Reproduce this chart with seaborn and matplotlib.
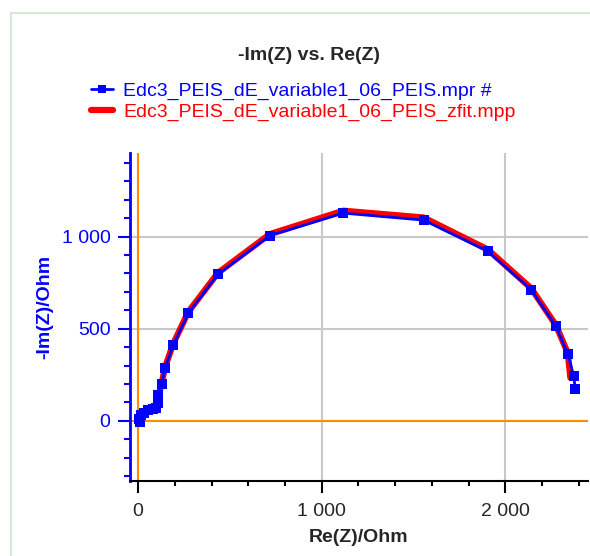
import matplotlib
matplotlib.use("Agg")
import matplotlib.pyplot as plt
from matplotlib.ticker import MultipleLocator, FuncFormatter
from matplotlib.lines import Line2D
from matplotlib.patches import Rectangle
import seaborn as sns
import pandas as pd

# measured data (Nyquist), from high to low frequency
re_meas = [10, 5, 15, 30, 55, 80, 100, 110, 111, 129, 147, 192, 274, 435, 717, 1118, 1555, 1904, 2140, 2276, 2340, 2372, 2381]
im_meas = [-5, 10, 30, 45, 60, 65, 70, 95, 141, 201, 286, 413, 585, 795, 1005, 1127, 1089, 920, 712, 512, 362, 245, 172]

# fitted curve
re_fit = [0, 8, 20, 40, 65, 90, 105, 112, 129, 147, 192, 274, 435, 717, 1118, 1555, 1904, 2140, 2276, 2340, 2354]
im_fit = [0, 20, 40, 58, 66, 72, 85, 141, 205, 292, 420, 592, 803, 1013, 1140, 1103, 930, 720, 518, 368, 234]

label_meas = "Edc3_PEIS_dE_variable1_06_PEIS.mpr #"
label_fit = "Edc3_PEIS_dE_variable1_06_PEIS_zfit.mpp"

sns.set_style("white")
plt.rcParams['font.family'] = ['Liberation Sans', 'DejaVu Sans']
plt.rcParams['font.size'] = 14

df_meas = pd.DataFrame({'re': re_meas, 'im': im_meas})
df_fit = pd.DataFrame({'re': re_fit, 'im': im_fit})

fig = plt.figure(figsize=(5.9, 5.56), dpi=100)
ax = fig.add_axes([130 / 590, 1 - 481 / 556, 458 / 590, 328 / 556])

# frame around the whole panel
fig.patches.append(Rectangle((11 / 590, -0.1), 1.2, 1 - 13 / 556 + 0.1, transform=fig.transFigure,
                             fill=False, edgecolor='#c8e6c8', linewidth=1.2))

ax.axhline(0, color='#ff8c00', lw=1.5, zorder=1)
ax.axvline(0, color='#ff8c00', lw=1.5, zorder=1)

sns.lineplot(data=df_fit, x='re', y='im', sort=False, ax=ax, color='red', lw=4.5,
             marker='o', markersize=3, markeredgewidth=0, zorder=3)
sns.lineplot(data=df_meas, x='re', y='im', sort=False, ax=ax, color='blue', lw=2,
             marker='s', markersize=7, markeredgewidth=0, zorder=4)

ax.set_xlim(-44, 2450)
ax.set_ylim(-326, 1453)
ax.xaxis.set_major_locator(MultipleLocator(1000))
ax.xaxis.set_minor_locator(MultipleLocator(200))
ax.yaxis.set_major_locator(MultipleLocator(500))
ax.yaxis.set_minor_locator(MultipleLocator(100))
fmt = FuncFormatter(lambda v, p: f"{int(v):,}".replace(",", " "))
ax.xaxis.set_major_formatter(fmt)
ax.yaxis.set_major_formatter(fmt)

ax.grid(True, which='major', color='#c8c8c8', lw=1.5)
ax.set_axisbelow(True)
for s in ['top', 'right']:
    ax.spines[s].set_visible(False)
ax.spines['left'].set_color('blue')
ax.spines['left'].set_linewidth(2)
ax.spines['bottom'].set_color('black')
ax.spines['bottom'].set_linewidth(1.5)

ax.tick_params(axis='y', which='major', length=8.6, width=1.5, color='blue', labelcolor='blue',
               left=True, labelsize=14, pad=5.5)
ax.tick_params(axis='y', which='minor', length=4.5, width=1.5, color='blue', left=True)
ax.tick_params(axis='x', which='major', length=8.6, width=1.5, color='black', bottom=True,
               labelsize=14, pad=7)
ax.tick_params(axis='x', which='minor', length=3.5, width=1.5, color='black', bottom=True)

ax.set_xlabel('Re(Z)/Ohm', fontweight='bold', fontsize=14, labelpad=7)
ax.set_ylabel('-Im(Z)/Ohm', fontweight='bold', fontsize=14, color='blue')
ax.yaxis.set_label_coords(-0.168, 0.53)

fig.text(309 / 590, 1 - 56 / 556, '-Im(Z) vs. Re(Z)', ha='center', va='center', fontweight='bold', fontsize=14)

handles = [
    Line2D([], [], color='blue', lw=2, marker='s', markersize=5.5, markeredgewidth=0),
    Line2D([], [], color='red', lw=4.5, marker='o', markersize=3, markeredgewidth=0),
]
leg = fig.legend(handles, [label_meas, label_fit], loc='upper left', bbox_to_anchor=(91 / 590, 1 - 82 / 556),
                 frameon=False, fontsize=14, handlelength=1.15, handletextpad=0.5, labelspacing=0.18,
                 borderaxespad=0, borderpad=0)
for t, c in zip(leg.get_texts(), ['blue', 'red']):
    t.set_color(c)

fig.savefig('out.png', dpi=100)
